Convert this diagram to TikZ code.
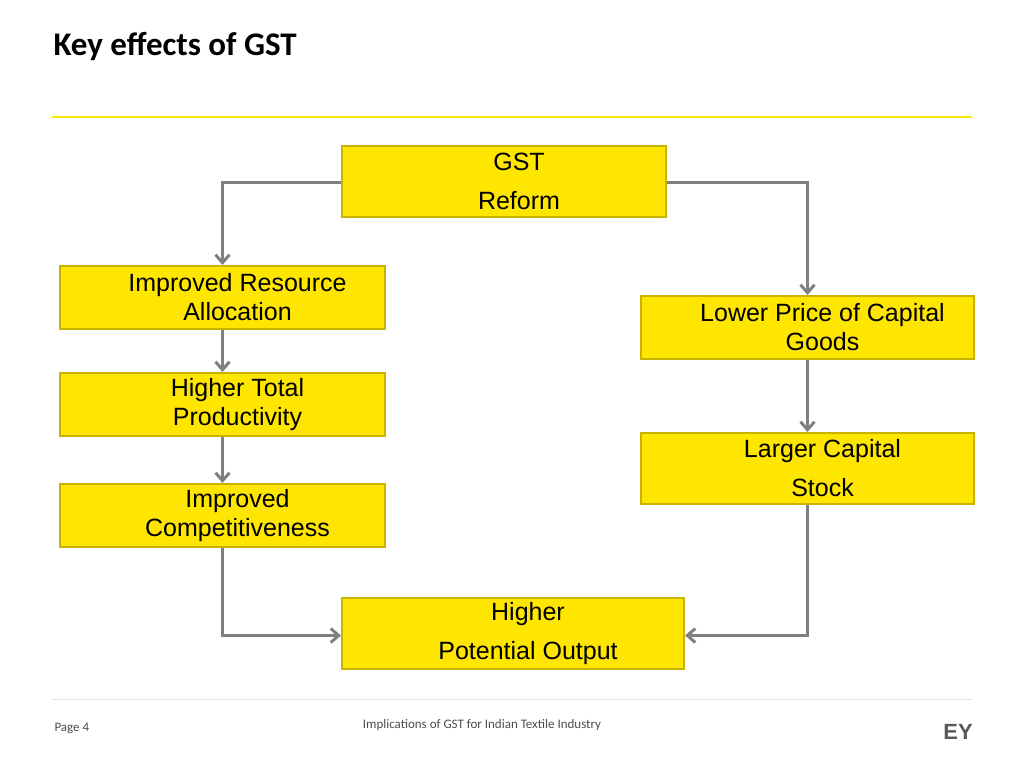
\documentclass[tikz,border=0pt]{standalone}
\usepackage{fontspec}
\setmainfont{Liberation Sans}
\newfontfamily\calibri{Carlito}
\usetikzlibrary{arrows.meta,positioning}
\definecolor{eyyellow}{HTML}{FFE600}
\definecolor{eyedge}{HTML}{C9B300}
\definecolor{linkgray}{HTML}{808080}
\begin{document}
\begin{tikzpicture}[x=1pt, y=-1pt]
\tikzstyle{block}=[draw=eyedge, line width=2pt, fill=eyyellow, anchor=north west, align=center, font=\fontsize{25}{29}\selectfont, inner sep=0pt]
\tikzstyle{link}=[draw=linkgray, line width=3pt, -{Straight Barb[length=8pt,width=14pt]}]
\useasboundingbox (0,0) rectangle (1024,768);

\node[anchor=west, font=\calibri\bfseries\fontsize{33}{36}\selectfont] (title) at (50,47) {Key effects of GST};
\draw[eyyellow, line width=2pt] (52,117) -- (972,117);
\draw[black!12, line width=1pt] (52,699) -- (972,699);

\node[block, minimum width=324pt, minimum height=71pt] (gst) at (341,145) {\hspace*{30pt}GST\\[10pt]\hspace*{30pt}Reform};
\node[block, minimum width=325pt, minimum height=63pt] (alloc) at (59,265) {\hspace*{30pt}Improved Resource\\\hspace*{30pt}Allocation};
\node[block, minimum width=325pt, minimum height=63pt] (prod) at (59,372) {\hspace*{30pt}Higher Total\\\hspace*{30pt}Productivity};
\node[block, minimum width=325pt, minimum height=63pt] (comp) at (59,483) {\hspace*{30pt}Improved\\\hspace*{30pt}Competitiveness};
\node[block, minimum width=333pt, minimum height=63pt] (price) at (640,295) {\hspace*{30pt}Lower Price of Capital\\\hspace*{30pt}Goods};
\node[block, minimum width=333pt, minimum height=71pt] (stock) at (640,432) {\hspace*{30pt}Larger Capital\\[10pt]\hspace*{30pt}Stock};
\node[block, minimum width=342pt, minimum height=71pt] (output) at (341,597) {\hspace*{30pt}Higher\\[10pt]\hspace*{30pt}Potential Output};

% left branch
\draw[link] ([yshift=-1pt]gst.west) -| (alloc.north);
\draw[link] (alloc.south) -- (alloc.south |- prod.north);
\draw[link] (prod.south) -- (prod.south |- comp.north);
\draw[link] (comp.south) |- ([yshift=-2pt]output.west);
% right branch
\draw[link] ([yshift=-1pt]gst.east) -| (price.north);
\draw[link] (price.south) -- (price.south |- stock.north);
\draw[link] (stock.south) |- ([yshift=-2pt]output.east);

\node[anchor=west, font=\calibri\fontsize{13}{15}\selectfont, black!70] (page) at (51,728) {Page 4};
\node[font=\calibri\fontsize{13}{15}\selectfont, black!70] (foot) at (482,725) {Implications of GST for Indian Textile Industry};
\node[font=\bfseries\fontsize{22}{24}\selectfont, black!65] (logo) at (958,732) {EY};
\end{tikzpicture}
\end{document}
